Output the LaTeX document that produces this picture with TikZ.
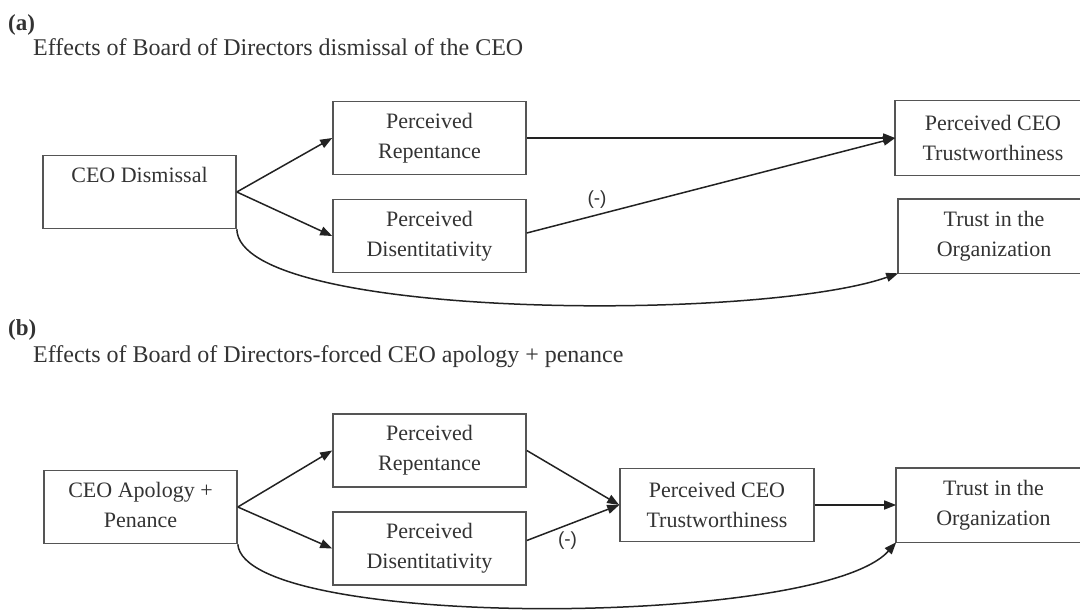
\documentclass[tikz,border=0pt]{standalone}
\usepackage{fontspec}
\setmainfont{Liberation Serif}
\newfontfamily\labelsans{Liberation Sans}
\usetikzlibrary{arrows.meta,calc}
\definecolor{ink}{HTML}{333333}
\definecolor{frame}{HTML}{555555}
\definecolor{arrowink}{HTML}{222222}
\begin{document}
\begin{tikzpicture}[x=1pt,y=-1pt,
  boxframe/.style={draw=frame, line width=1.6pt, rectangle, minimum width=193pt, minimum height=73pt, inner sep=0pt, align=center, text=ink, font=\fontsize{22}{30}\selectfont},
  openbox/.style={boxframe, draw=none},
  edgeline/.style={draw=frame, line width=1.6pt},
  conn/.style={draw=arrowink, line width=1.5pt, -{Triangle[length=12pt,width=9pt]}},
  sign/.style={text=ink, font=\labelsans\fontsize{19}{22}\selectfont, inner sep=0pt},
  panel/.style={text=ink, font=\bfseries\fontsize{23}{28}\selectfont, anchor=west, inner sep=0pt},
  heading/.style={text=ink, font=\fontsize{24}{28}\selectfont, anchor=west, inner sep=0pt}]
\useasboundingbox (0,0) rectangle (1080,610);
\clip (0,0) rectangle (1080,610);

% ---------- panel (a)
\node[panel] (pa) at (8,25) {(a)};
\node[heading] (ha) at (33,47) {Effects of Board of Directors dismissal of the CEO};

\node[boxframe] (cda) at (139.5,192) {CEO Dismissal\\\vphantom{Pp}};
\node[boxframe] (repa) at (429.5,138) {Perceived\\Repentance};
\node[boxframe] (disa) at (429.5,236) {Perceived\\Disentitativity};
\node[openbox, minimum width=194pt] (trwa) at (993,138) {Perceived CEO\\Trustworthiness};
\node[openbox, minimum width=190pt] (trusta) at (994,236) {Trust in the\\Organization};
\draw[edgeline] ([xshift=40pt]trwa.north east) -- (trwa.north west) -- (trwa.south west) -- ([xshift=40pt]trwa.south east);
\draw[edgeline] ([xshift=40pt]trusta.north east) -- (trusta.north west) -- (trusta.south west) -- ([xshift=40pt]trusta.south east);

\draw[conn] (cda.east) -- (repa.west);
\draw[conn] (cda.east) -- (disa.west);
\draw[conn] (repa.east) -- (trwa.west);
\draw[conn] ([yshift=3pt]disa.east) -- (trwa.west);
\node[sign] (nega) at (597,200) {(-)};
\draw[conn] (cda.south east) .. controls (240,320) and (760,322) .. (trusta.south west);

% ---------- panel (b)
\node[panel] (pb) at (8,330) {(b)};
\node[heading] (hb) at (33,357) {Effects of Board of Directors-forced CEO apology + penance};

\node[boxframe] (cdb) at (140.5,507) {CEO Apology +\\Penance\vphantom{p}};
\node[boxframe] (repb) at (429.5,450.5) {Perceived\\Repentance};
\node[boxframe] (disb) at (429.5,548.5) {Perceived\\Disentitativity};
\node[boxframe, minimum width=194pt] (trwb) at (717,505) {Perceived CEO\\Trustworthiness};
\node[openbox, minimum width=193pt] (trustb) at (993.5,505) {Trust in the\\Organization};
\draw[edgeline] ([xshift=40pt]trustb.north east) -- (trustb.north west) -- (trustb.south west) -- ([xshift=40pt]trustb.south east);

\draw[conn] (cdb.east) -- (repb.west);
\draw[conn] (cdb.east) -- (disb.west);
\draw[conn] (repb.east) -- (trwb.west);
\draw[conn] ([yshift=8pt]disb.east) -- (trwb.west);
\node[sign] (negb) at (567.5,541) {(-)};
\draw[conn] (trwb.east) -- (trustb.west);
\draw[conn] (cdb.south east) .. controls (245,630) and (820,628) .. (trustb.south west);
\end{tikzpicture}
\end{document}
